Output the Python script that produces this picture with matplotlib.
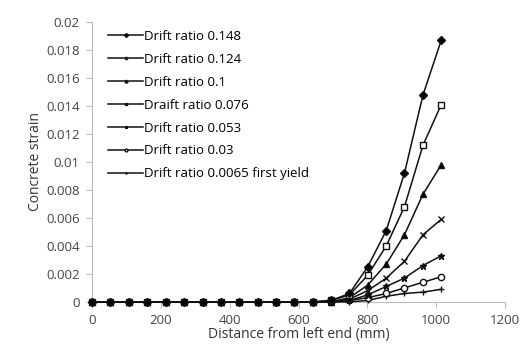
import matplotlib.pyplot as plt
import numpy as np

plt.rcParams['font.family'] = ['Open Sans', 'DejaVu Sans']

# distance along member (mm), 20 gauge points
distance = [0, 53, 107, 160, 214, 267, 321, 374, 427, 481,
            534, 588, 641, 695, 748, 801, 855, 908, 962, 1015]

labels = ['Drift ratio 0.148', 'Drift ratio 0.124', 'Drift ratio 0.1',
          'Draift ratio 0.076', 'Drift ratio 0.053', 'Drift ratio 0.03',
          'Drift ratio 0.0065 first yield']

zeros = [0.0] * 13
strain_148 = zeros + [0.0001, 0.0006, 0.0025, 0.0051, 0.0092, 0.0148, 0.0187]
strain_124 = zeros + [0.0001, 0.0005, 0.0019, 0.0040, 0.0068, 0.0112, 0.0141]
strain_100 = zeros + [0.0, 0.0003, 0.0012, 0.0027, 0.0048, 0.0077, 0.0098]
strain_076 = zeros + [0.0, 0.0002, 0.0008, 0.0017, 0.0029, 0.0048, 0.0059]
strain_053 = zeros + [0.0, 0.0001, 0.0005, 0.0011, 0.0017, 0.0026, 0.0033]
strain_030 = zeros + [0.0, 0.0001, 0.0003, 0.0006, 0.0010, 0.0014, 0.0018]
strain_0065 = zeros + [0.0, 0.0, 0.0001, 0.0004, 0.0006, 0.0007, 0.0009]

series = [strain_148, strain_124, strain_100, strain_076,
          strain_053, strain_030, strain_0065]
markers = ['D', 's', '^', 'x', '*', 'o', '+']
fills = ['black', 'white', 'black', 'black', 'black', 'white', 'black']

fig = plt.figure(figsize=(5.27, 3.56), dpi=100)
ax = fig.add_axes([0.175, 0.152, 0.783, 0.786])

# first series on top so the overlapping zero points look solid
for i, (vals, lab, m, fc) in enumerate(zip(series, labels, markers, fills)):
    ax.plot(distance, vals, color='#111111', linewidth=1.1, marker=m,
            markersize=4.5, markerfacecolor=fc, markeredgecolor='#111111',
            markeredgewidth=1.0, label=lab, clip_on=False, zorder=10 - i)

ax.set_xlim(0, 1200)
ax.set_ylim(0, 0.02)
ax.set_xticks(np.arange(0, 1201, 200))
ax.set_yticks(np.arange(0, 0.0201, 0.002))
ax.set_yticklabels(['0', '0.002', '0.004', '0.006', '0.008', '0.01',
                    '0.012', '0.014', '0.016', '0.018', '0.02'])
ax.set_xlabel('Distance from left end (mm)', fontsize=10, color='#333333', labelpad=0)
ax.set_ylabel('Concrete strain', fontsize=10, color='#333333', labelpad=2)

for side in ['top', 'right']:
    ax.spines[side].set_visible(False)
for side in ['left', 'bottom']:
    ax.spines[side].set_color('#bbbbbb')
ax.tick_params(colors='#bbbbbb', labelcolor='#444444', labelsize=9.5, length=4, pad=5)

ax.legend(loc='upper left', bbox_to_anchor=(0.02, 1.0), frameon=False,
          fontsize=9.5, handlelength=2.6, handletextpad=0.1,
          labelspacing=0.75, borderaxespad=0.2, markerscale=0.45)

fig.savefig('out.png', dpi=100)
